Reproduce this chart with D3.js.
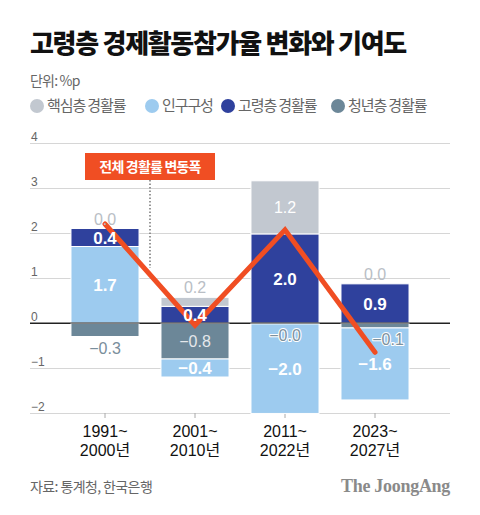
<!DOCTYPE html>
<html><head><meta charset="utf-8">
<script src="https://cdn.jsdelivr.net/npm/d3@7"></script>
<style>
body{margin:0;background:#fff;}
svg{display:block;}
</style></head>
<body><svg id="c" width="480" height="515"></svg>
<script>
// ---- data ----
const periodStart = ["1991~","2001~","2011~","2023~"];
const periodEnd   = ["2000년","2010년","2022년","2027년"];
const coreRate    = [0.0, 0.2, 1.18, 0.0];      // 핵심층 경활률
const population  = [1.7, -0.4, -1.99, -1.6];  // 인구구성
const elderlyRate = [0.4, 0.37, 1.98, 0.87];    // 고령층 경활률
const youthRate   = [-0.3, -0.8, -0.02, -0.11]; // 청년층 경활률
const totalChange = [2.2, -0.05, 2.07, -0.65];  // 전체 경활률 변동폭
const yTicks = [-2,-1,0,1,2,3,4];
const legendLabels = ["핵심층 경활률","인구구성","고령층 경활률","청년층 경활률"];
const titleText = "고령층 경제활동참가율 변화와 기여도";
const unitText = "단위: %p";
const sourceText = "자료: 통계청, 한국은행";
const annotationText = "전체 경활률 변동폭";

// ---- setup ----
const KR = "'Noto Sans CJK KR','Noto Sans',sans-serif";
const NUM = "'Liberation Sans','Noto Sans CJK KR',sans-serif";
const colors = {core:"#c2c8d0", population:"#9dcbef", elderly:"#2f419d", youth:"#6c8798"};
const keys = ["youth","population","elderly","core"];
const rows = periodStart.map((p,i)=>({i, core:coreRate[i], population:population[i], elderly:elderlyRate[i], youth:youthRate[i]}));

const svg = d3.select("#c");
const x = d3.scaleBand().domain(d3.range(periodStart.length)).range([60,420]).paddingInner(0.244).paddingOuter(0.122);
const y = d3.scaleLinear().domain([-2,4]).range([413,143]);

// title etc
svg.append("text").attr("x",30).attr("y",53).attr("font-family",KR).attr("font-weight",900)
  .attr("font-size",26).attr("letter-spacing",-1.3).attr("fill","#111").text(titleText);
svg.append("text").attr("x",30).attr("y",86).attr("font-family",KR).attr("font-size",14)
  .attr("letter-spacing",-0.8).attr("fill","#666").text(unitText);

// legend
const legendKeys = ["core","population","elderly","youth"];
const legendX = [37,152,228,338];
legendKeys.forEach((k,i)=>{
  svg.append("circle").attr("cx",legendX[i]).attr("cy",106).attr("r",7).attr("fill",colors[k]);
  svg.append("text").attr("x",legendX[i]+10).attr("y",106).attr("dy","0.36em").attr("font-family",KR)
    .attr("font-size",15).attr("letter-spacing",-1.1).attr("fill","#666").text(legendLabels[i]);
});

// grid
const gy = svg.append("g").attr("transform","translate(30,0)")
  .call(d3.axisRight(y).tickValues(yTicks).tickSize(420).tickFormat(d3.format("d")));
gy.select(".domain").remove();
gy.selectAll(".tick line").attr("stroke",d=>d===0?"#222":"#d6d6d6").attr("stroke-width",1);
gy.selectAll(".tick text").attr("x",1).attr("y",-3).attr("dy",0).attr("text-anchor","start")
  .attr("font-family",NUM).attr("font-size",12).attr("fill","#666");

// x axis
const gx = svg.append("g").attr("transform","translate(0,413)")
  .call(d3.axisBottom(x).tickSize(5).tickFormat(""));
gx.select(".domain").remove();
gx.selectAll(".tick line").attr("stroke","#aaa");
gx.selectAll(".tick text").each(function(d){
  const t = d3.select(this).attr("y",24).attr("dy",0).attr("font-family",NUM).attr("font-size",16).attr("fill","#111");
  t.append("tspan").attr("x",0).attr("y",24).text(periodStart[d]);
  t.append("tspan").attr("x",0).attr("y",42.5).text(periodEnd[d]);
});

// annotation
const ann = svg.append("g");
ann.append("line").attr("x1",150).attr("x2",150).attr("y1",180).attr("y2",268)
  .attr("stroke","#777").attr("stroke-width",1.5).attr("stroke-dasharray","1.5,2");
ann.append("rect").attr("x",85).attr("y",153).attr("width",130).attr("height",27).attr("fill","#f04e23");
ann.append("text").attr("x",150).attr("y",166.5).attr("dy","0.36em").attr("text-anchor","middle")
  .attr("font-family",KR).attr("font-weight",700).attr("font-size",14).attr("letter-spacing",-0.8)
  .attr("fill","#fff").text(annotationText);

// bars
const stack = d3.stack().keys(keys).offset(d3.stackOffsetDiverging)(rows);
const bars = svg.append("g");
stack.forEach(s=>{
  bars.selectAll(null).data(s).join("rect")
    .attr("x",d=>x(d.data.i)).attr("width",x.bandwidth())
    .attr("y",d=>y(Math.max(d[0],d[1]))).attr("height",d=>Math.abs(y(d[0])-y(d[1])))
    .attr("fill",colors[s.key]).attr("stroke","#fff").attr("stroke-width",1);
});

// zero line over bars
svg.append("line").attr("x1",30).attr("x2",450).attr("y1",y(0)).attr("y2",y(0)).attr("stroke","#222").attr("stroke-width",1);

// total change line
svg.append("path").datum(totalChange)
  .attr("d",d3.line().x((d,i)=>x(i)+x.bandwidth()/2).y(d=>y(d)))
  .attr("fill","none").attr("stroke","#f04e23").attr("stroke-width",5)
  .attr("stroke-linecap","round").attr("stroke-linejoin","miter");

// labels
const fmt = v => (v<0?"−":"") + Math.abs(v).toFixed(1);
const labels = svg.append("g").attr("font-family",NUM).attr("font-size",16).attr("text-anchor","middle");
const nudge = {"youth-3":13};
stack.forEach(s=>{
  s.forEach(d=>{
    const i = d.data.i, v = d.data[s.key];
    const cx = x(i)+x.bandwidth()/2;
    const top = y(Math.max(d[0],d[1])), bot = y(Math.min(d[0],d[1]));
    const h = bot-top;
    const stackTop = y(d3.max(stack,ss=>Math.max(ss[i][0],ss[i][1])));
    const stackBot = y(d3.min(stack,ss=>Math.min(ss[i][0],ss[i][1])));
    if (h >= 14) {
      const bold = (s.key==="elderly"||s.key==="population");
      labels.append("text").attr("x",cx).attr("y",(top+bot)/2).attr("dy","0.36em").text(fmt(v))
        .attr("fill", s.key==="youth" ? "#e4e8eb" : "#fff")
        .attr("font-size", bold ? 17 : 16)
        .attr("font-weight", bold ? 700 : 400);
    } else if (s.key==="core") {
      labels.append("text").attr("x",cx).attr("y",stackTop-4).text(fmt(v)).attr("fill","#b9bec5");
    } else if (s.key==="youth") {
      if (Math.abs(bot-stackBot)<0.5) {
        labels.append("text").attr("x",cx).attr("y",stackBot+12).attr("dy","0.36em").text(fmt(v)).attr("fill","#7a8e9b");
      } else {
        labels.append("text").attr("x",cx+(nudge["youth-"+i]||0)).attr("y",bot+11).attr("dy","0.36em").text(fmt(v))
          .attr("fill","#7d919e").attr("stroke","#fff").attr("stroke-width",2.2)
          .attr("paint-order","stroke").attr("stroke-linejoin","round");
      }
    }
  });
});

// footer
svg.append("text").attr("x",30).attr("y",492).attr("font-family",KR).attr("font-size",14)
  .attr("letter-spacing",-0.6).attr("fill","#666").text(sourceText);
svg.append("text").attr("x",450).attr("y",492).attr("text-anchor","end").attr("font-family","'Liberation Serif','DejaVu Serif',serif")
  .attr("font-weight",700).attr("font-size",18).attr("letter-spacing",-0.3).attr("fill","#8a8a8a").text("The JoongAng");
</script>
</body></html>
